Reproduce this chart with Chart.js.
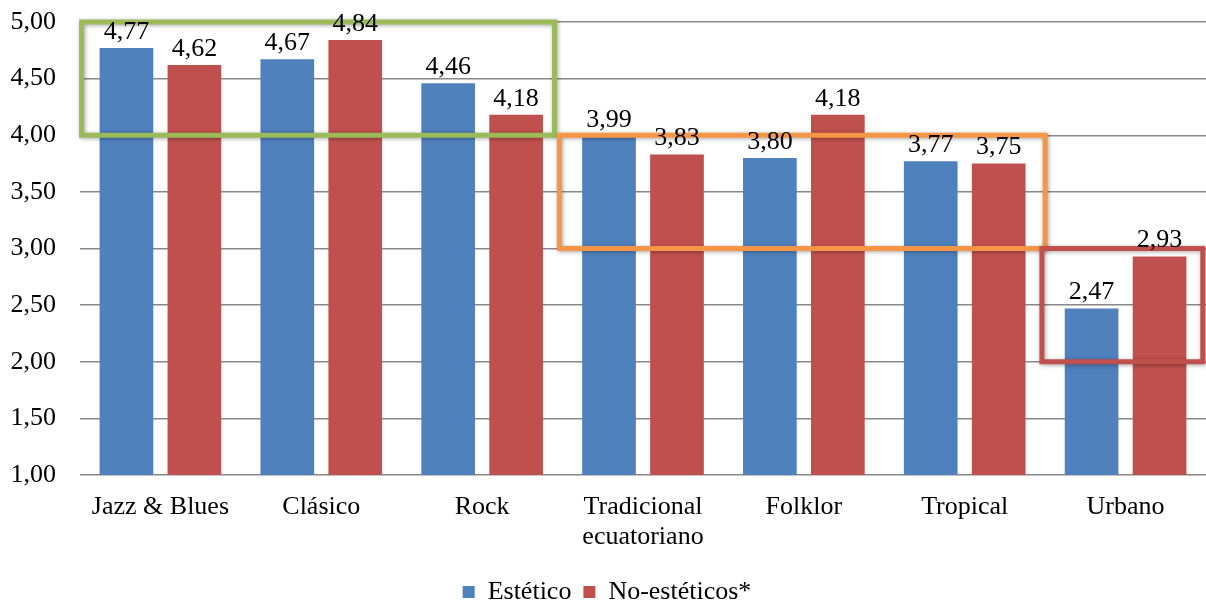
<!DOCTYPE html>
<html>
<head>
<meta charset="utf-8">
<script src="https://cdn.jsdelivr.net/npm/chart.js@4.4.0/dist/chart.umd.min.js"></script>
<style>
  html, body { margin: 0; padding: 0; background: #fff; }
  #wrap { width: 1206px; height: 601px; position: relative; }
</style>
</head>
<body>
<div id="wrap"><canvas id="chart"></canvas></div>
<script>
// Genre categories and mean scores per listener group
var generos = ['Jazz & Blues', 'Clásico', 'Rock', ['Tradicional', 'ecuatoriano'], 'Folklor', 'Tropical', 'Urbano'];
var esteticos = [4.77, 4.67, 4.46, 3.99, 3.80, 3.77, 2.47];
var noEsteticos = [4.62, 4.84, 4.18, 3.83, 4.18, 3.75, 2.93];

// Highlight boxes, in category index / value units
var cajas = [
    { desde: -0.49, hasta: 2.45, min: 4.0, max: 5.0, color: '#9BBB59' },
    { desde: 2.48, hasta: 5.5, min: 3.0, max: 4.0, color: '#F79646' },
    { desde: 5.48, hasta: 6.48, min: 2.0, max: 3.0, color: '#C0504D' }
];

var FUENTE = '"Liberation Serif", "Times New Roman", serif';
var TAM = 26;

function coma(v) {
    return v.toFixed(2).replace('.', ',');
}

// coloured frames drawn over the bars
var marcos = {
    id: 'marcos',
    afterDraw: function (chart) {
        var ctx = chart.ctx;
        var x = chart.scales.x, y = chart.scales.y;
        var paso = x.getPixelForValue(1) - x.getPixelForValue(0);
        ctx.save();
        ctx.lineWidth = 5;
        ctx.shadowColor = 'rgba(0,0,0,0.35)';
        ctx.shadowBlur = 4;
        ctx.shadowOffsetX = 1;
        ctx.shadowOffsetY = 1;
        cajas.forEach(function (c) {
            var x0 = x.getPixelForValue(0) + c.desde * paso;
            var x1 = x.getPixelForValue(0) + c.hasta * paso;
            var y0 = y.getPixelForValue(c.max);
            var y1 = y.getPixelForValue(c.min);
            ctx.strokeStyle = c.color;
            ctx.strokeRect(x0, y0, x1 - x0, y1 - y0);
        });
        ctx.restore();
    }
};

// value labels on top of every bar, after the frames so they stay readable
var etiquetas = {
    id: 'etiquetas',
    afterDraw: function (chart) {
        var ctx = chart.ctx;
        ctx.save();
        ctx.font = TAM + 'px ' + FUENTE;
        ctx.fillStyle = '#000';
        ctx.textAlign = 'center';
        ctx.textBaseline = 'bottom';
        chart.data.datasets.forEach(function (ds, i) {
            var meta = chart.getDatasetMeta(i);
            meta.data.forEach(function (bar, j) {
                ctx.fillText(coma(ds.data[j]), bar.x, bar.y - 3);
            });
        });
        ctx.restore();
    }
};

new Chart(document.getElementById('chart'), {
    type: 'bar',
    data: {
        labels: generos,
        datasets: [
            { label: 'Estético', data: esteticos, backgroundColor: '#4F81BD' },
            { label: 'No-estéticos*', data: noEsteticos, backgroundColor: '#C0504D' }
        ]
    },
    options: {
        responsive: true,
        maintainAspectRatio: false,
        animation: false,
        categoryPercentage: 0.845,
        barPercentage: 0.79,
        layout: { padding: { top: 22, right: 0, left: 8, bottom: -14 } },
        scales: {
            x: {
                grid: { display: false, drawTicks: false },
                border: { display: false },
                ticks: { color: '#000', padding: 17, font: { family: FUENTE, size: TAM, lineHeight: 1.15 } },
                afterFit: function (s) {
                    s.paddingLeft = 0;
                    s.paddingRight = 0;
                    s.height = 92;
                }
            },
            y: {
                min: 1,
                max: 5,
                grid: { color: '#888', lineWidth: 1.5, drawTicks: false },
                border: { display: false },
                ticks: {
                    stepSize: 0.5,
                    color: '#000',
                    padding: 24,
                    font: { family: FUENTE, size: TAM },
                    callback: function (v) { return coma(v); }
                },
                afterFit: function (s) {
                    s.width = 72;
                    s.paddingTop = 0;
                    s.paddingBottom = 0;
                }
            }
        },
        plugins: {
            legend: {
                position: 'bottom',
                labels: {
                    color: '#000',
                    boxWidth: 12,
                    boxHeight: 12,
                    padding: 12,
                    font: { family: FUENTE, size: TAM }
                }
            },
            tooltip: { enabled: false }
        }
    },
    plugins: [marcos, etiquetas]
});
</script>
</body>
</html>
